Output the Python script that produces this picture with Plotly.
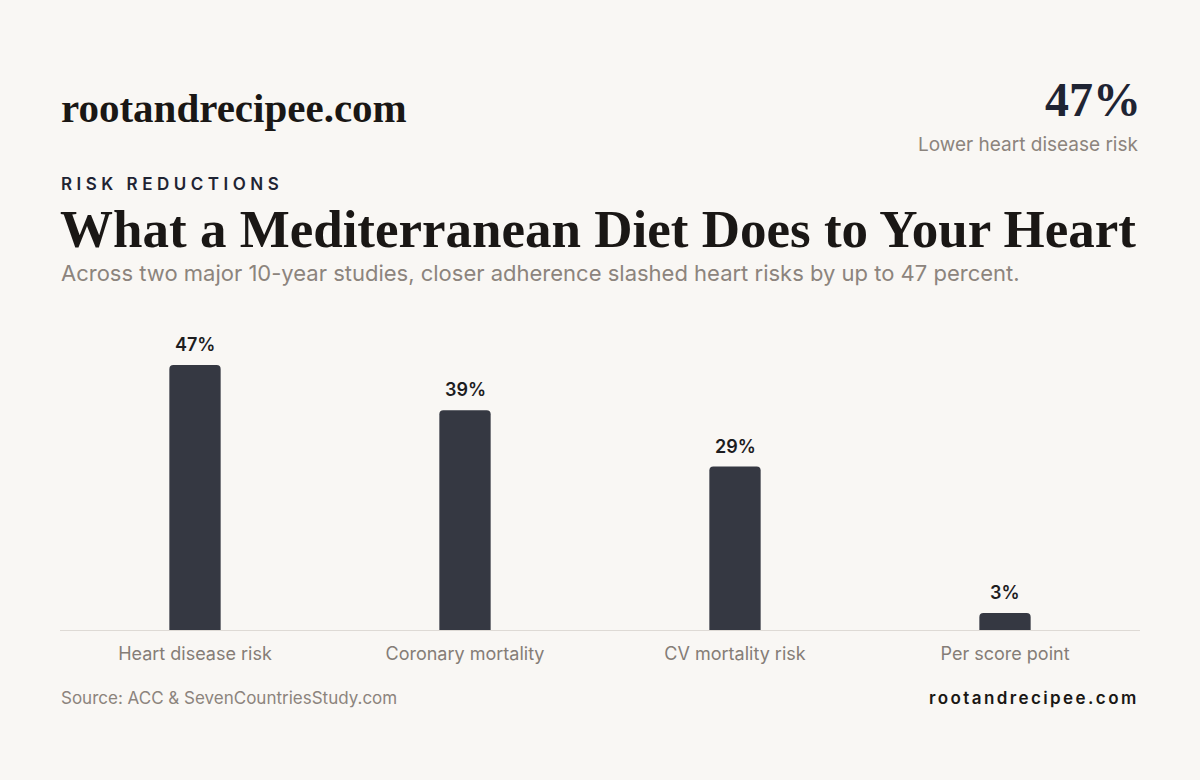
import plotly.graph_objects as go

categories = ["Heart disease risk", "Coronary mortality", "CV mortality risk", "Per score point"]
values = [47, 39, 29, 3]
value_labels = ["47%", "39%", "29%", "3%"]

BG = "#f9f7f4"
SERIF = "Liberation Serif, DejaVu Serif, serif"
SANS = "Inter, Noto Sans, sans-serif"

fig = go.Figure()
fig.add_trace(go.Bar(
    x=categories, y=values,
    marker=dict(color="#353842", cornerradius=4, line=dict(width=0)),
    width=0.19, hoverinfo="skip",
))

for c, v, t in zip(categories, values, value_labels):
    fig.add_annotation(x=c, y=v, xref="x", yref="y", text=t, showarrow=False,
                       yanchor="bottom", yshift=8,
                       font=dict(family=SANS, size=18, color="#1d1d1f", weight=600))

def ann(text, x, y, size, color, family, xanchor="left", weight=None):
    f = dict(family=family, size=size, color=color)
    if weight:
        f["weight"] = weight
    fig.add_annotation(text=text, x=x, y=y, xref="paper", yref="paper",
                       xanchor=xanchor, yanchor="middle", showarrow=False, font=f)

W, H = 1200, 780
L, R, T, B = 60, 60, 320, 150
def px(xp): return (xp - L) / (W - L - R)
def py(yp): return (H - B - yp) / (H - T - B)

ann("rootandrecipee.com", px(59), py(108), 41, "#1a1715", SERIF, weight=700)
ann("47%", px(1143), py(99), 48, "#1f2433", SERIF, xanchor="right", weight=700)
ann("Lower heart disease risk", px(1140), py(144), 19, "#8c847d", SANS, xanchor="right")
ann('<span style="letter-spacing:4.5px">RISK REDUCTIONS</span>', px(59), py(184), 17, "#1f2433", SANS, weight=600)
ann("What a Mediterranean Diet Does to Your Heart", px(58), py(229), 53, "#1a1715", SERIF, weight=700)
ann("Across two major 10-year studies, closer adherence slashed heart risks by up to 47 percent.",
    px(59), py(273), 22, "#8c847d", SANS)
ann("Source: ACC &amp; SevenCountriesStudy.com", px(59), py(698), 17, "#8c847d", SANS)
ann('<span style="letter-spacing:2.4px">rootandrecipee.com</span>', px(1141), py(698), 17, "#1a1715", SANS, xanchor="right", weight=600)

fig.update_layout(
    width=W, height=H,
    margin=dict(l=L, r=R, t=T, b=B, autoexpand=False),
    paper_bgcolor=BG, plot_bgcolor=BG,
    showlegend=False, bargap=0.8,
    xaxis=dict(showline=True, linecolor="#dedad5", linewidth=1, showgrid=False,
               zeroline=False, ticks="", ticklabelstandoff=7,
               tickfont=dict(family=SANS, size=18, color="#857d77"), fixedrange=True),
    yaxis=dict(range=[0, 55], showgrid=False, zeroline=False, showticklabels=False,
               showline=False, fixedrange=True),
)

fig.write_html("out.html", config={"displayModeBar": False},
               post_script="document.body.style.margin='0';document.body.style.background='%s';" % BG)
